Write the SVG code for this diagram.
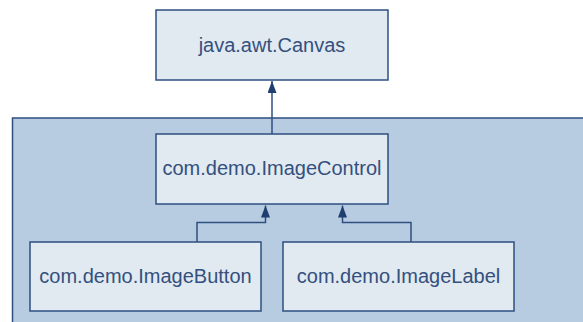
<svg xmlns="http://www.w3.org/2000/svg" width="583" height="322" viewBox="0 0 583 322">
<style>
.box{fill:#e1e9f1;stroke:#2e4f80;stroke-width:1.5}
.pkg{fill:#b7cbe1;stroke:#2e4f80;stroke-width:1.5}
.lbl{font-family:"Liberation Sans",Arial,sans-serif;font-size:20px;fill:#34507e;text-anchor:middle}
.edge{fill:none;stroke:#2e4f80;stroke-width:1.5}
</style>
<defs>
<marker id="arr" markerWidth="12" markerHeight="9" refX="12" refY="4.5" orient="auto" markerUnits="userSpaceOnUse" viewBox="0 0 12 9">
<path d="M0,0 L12,4.5 L0,9 Z" fill="#1f3f6f"/>
</marker>
</defs>
<rect id="package" class="pkg" x="12.5" y="118" width="580" height="215"/>
<g id="canvas">
<rect class="box" x="156" y="10" width="232" height="70"/>
<text class="lbl" x="272" y="52">java.awt.Canvas</text>
</g>
<g id="imagecontrol">
<rect class="box" x="156" y="134" width="232" height="70"/>
<text class="lbl" x="272" y="175">com.demo.ImageControl</text>
</g>
<g id="imagebutton">
<rect class="box" x="30" y="242" width="231" height="69"/>
<text class="lbl" x="145.5" y="283">com.demo.ImageButton</text>
</g>
<g id="imagelabel">
<rect class="box" x="283" y="242" width="231" height="69"/>
<text class="lbl" x="398.5" y="283">com.demo.ImageLabel</text>
</g>
<g id="connectors">
<path class="edge" d="M272,134 V81" marker-end="url(#arr)"/>
<path class="edge" d="M197,242 V222.5 H265.5 V205.5" marker-end="url(#arr)"/>
<path class="edge" d="M411,242 V222.5 H342.5 V205.5" marker-end="url(#arr)"/>
</g>
</svg>
